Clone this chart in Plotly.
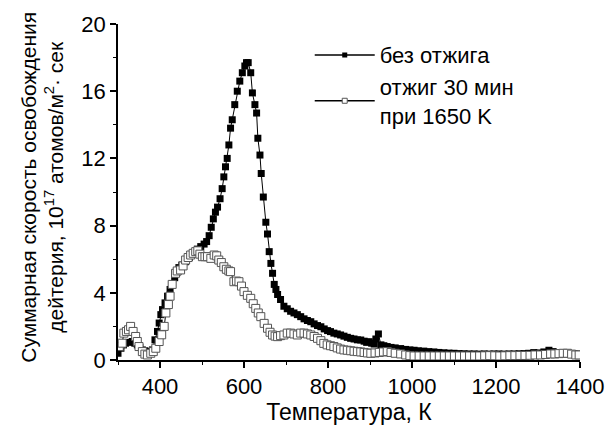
import plotly.graph_objects as go

# без отжига (filled squares)
t_raw = [300, 307, 313, 318, 326, 334, 340, 346, 352, 358, 364, 370, 376, 382, 388, 394, 398, 402, 406, 412,
         418, 424, 429, 435, 440, 445, 452, 461, 470, 481, 489, 497, 505, 511, 517, 522, 527, 532, 537, 543,
         548, 552, 556, 560, 564, 568, 572, 578, 584, 590, 596, 602, 606, 610, 616, 620, 626, 630, 633, 638,
         641, 646, 652, 656, 660, 664, 668, 672, 676, 680, 687, 695, 703, 711, 719, 727, 735, 743, 751, 759,
         767, 775, 783, 791, 799, 806, 814, 822, 830, 838, 846, 854, 862, 870, 878, 886, 892, 898, 904, 910,
         914, 920, 926, 933, 941, 950, 960, 973, 985, 995, 1005, 1015, 1028, 1040, 1052, 1064, 1076, 1088, 1100, 1112,
         1124, 1136, 1148, 1160, 1172, 1184, 1195, 1207, 1219, 1231, 1243, 1255, 1267, 1278, 1290, 1302, 1314, 1326, 1336, 1346,
         1356, 1366, 1376, 1386, 1396]
v_raw = [0.4, 0.7, 0.9, 1.0, 1.05, 1.1, 1.0, 0.9, 0.75, 0.6, 0.55, 0.5, 0.5, 0.6, 1.2, 1.7, 2.2, 2.7, 3.0, 3.4,
         3.8, 4.2, 4.5, 4.9, 5.2, 5.5, 5.65, 5.85, 6.1, 6.35, 6.6, 6.75, 6.9, 7.05, 7.4, 7.9, 8.4, 8.8, 9.1, 9.6,
         10.2, 10.9, 11.5, 12.0, 12.8, 13.8, 14.3, 15.2, 16.0, 16.6, 17.1, 17.5, 17.7, 17.7, 17.1, 15.9, 15.2, 14.7, 13.2, 12.2,
         11.1, 9.7, 8.2, 7.5, 6.45, 5.75, 5.16, 4.5, 4.2, 3.9, 3.6, 3.2, 3.05, 2.9, 2.8, 2.7, 2.58, 2.45, 2.35, 2.28,
         2.15, 2.05, 1.98, 1.85, 1.75, 1.69, 1.6, 1.55, 1.49, 1.42, 1.35, 1.29, 1.25, 1.2, 1.19, 1.12, 1.05, 1.09, 1.0, 0.95,
         1.25, 1.55, 0.9, 0.85, 0.8, 0.75, 0.72, 0.68, 0.63, 0.6, 0.58, 0.55, 0.53, 0.5, 0.48, 0.45, 0.43, 0.41, 0.4, 0.38,
         0.37, 0.36, 0.36, 0.35, 0.36, 0.35, 0.36, 0.36, 0.35, 0.36, 0.36, 0.37, 0.38, 0.4, 0.44, 0.42, 0.48, 0.58, 0.5, 0.4,
         0.38, 0.37, 0.36, 0.36, 0.35]

# отжиг 30 мин при 1650 K (open squares)
t_ann = [303, 310, 314, 320, 325, 330, 336, 342, 346, 350, 358, 364, 370, 378, 384, 390, 398, 404, 410, 414,
         420, 424, 429, 437, 441, 449, 455, 461, 467, 473, 479, 485, 490, 495, 501, 507, 513, 521, 529, 535,
         540, 546, 552, 558, 564, 568, 576, 582, 588, 594, 600, 608, 616, 622, 628, 634, 640, 648, 656, 662,
         668, 674, 680, 687, 695, 703, 711, 719, 727, 735, 743, 751, 759, 767, 775, 783, 790, 798, 806, 814,
         822, 830, 838, 846, 854, 862, 870, 878, 886, 894, 902, 912, 922, 932, 941, 950, 960, 973, 985, 995,
         1005, 1017, 1029, 1041, 1053, 1065, 1077, 1089, 1101, 1113, 1125, 1137, 1149, 1161, 1173, 1185, 1197, 1209, 1221, 1233,
         1245, 1257, 1269, 1281, 1293, 1306, 1318, 1330, 1340, 1350, 1360, 1370, 1380, 1390, 1398]
v_ann = [0.8, 1.0, 1.6, 1.7, 1.8, 2.0, 1.7, 1.4, 1.1, 0.8, 0.5, 0.35, 0.3, 0.4, 0.5, 0.7, 1.1, 1.5, 2.0, 2.8,
         3.3, 3.8, 4.5, 5.16, 5.3, 5.36, 5.6, 5.95, 6.1, 6.25, 6.35, 6.45, 6.5, 6.3, 6.15, 6.15, 6.15, 6.05, 6.25, 6.2,
         5.95, 5.8, 5.55, 5.4, 5.3, 5.26, 4.66, 4.7, 4.66, 4.4, 4.07, 3.85, 3.67, 3.35, 3.07, 2.8, 2.58, 2.18, 1.89, 1.65,
         1.49, 1.42, 1.39, 1.45, 1.49, 1.6, 1.6, 1.55, 1.49, 1.6, 1.6, 1.55, 1.49, 1.4, 1.29, 1.15, 0.99, 0.9, 0.85, 0.8,
         0.72, 0.65, 0.6, 0.58, 0.55, 0.52, 0.5, 0.48, 0.45, 0.42, 0.4, 0.42, 0.45, 0.48, 0.5, 0.45, 0.4, 0.36, 0.3, 0.26,
         0.24, 0.24, 0.24, 0.24, 0.24, 0.24, 0.24, 0.24, 0.24, 0.24, 0.24, 0.24, 0.24, 0.24, 0.25, 0.26, 0.25, 0.24, 0.25, 0.26,
         0.26, 0.27, 0.27, 0.28, 0.3, 0.3, 0.33, 0.36, 0.36, 0.38, 0.4, 0.4, 0.35, 0.3, 0.3]

x_ticks = [400, 600, 800, 1000, 1200, 1400]
y_ticks = [0, 4, 8, 12, 16, 20]

FONT = "Liberation Sans, Arial, sans-serif"

fig = go.Figure()
fig.add_trace(go.Scatter(
    x=t_raw, y=v_raw, mode="lines+markers", name="без отжига", showlegend=False,
    line=dict(color="black", width=1),
    marker=dict(symbol="square", size=7, color="black", line=dict(width=0)),
))
fig.add_trace(go.Scatter(
    x=t_ann, y=v_ann, mode="lines+markers", name="отжиг 30 мин при 1650 K", showlegend=False,
    line=dict(color="black", width=1),
    marker=dict(symbol="square", size=8, color="white", line=dict(color="#555555", width=1)),
))
# legend-only entries (smaller legend symbols, as in the reference)
fig.add_trace(go.Scatter(
    x=[None], y=[None], mode="lines+markers", name="без отжига",
    line=dict(color="black", width=1.5),
    marker=dict(symbol="square", size=5, color="black", line=dict(width=0)),
))
fig.add_trace(go.Scatter(
    x=[None], y=[None], mode="lines+markers", name="отжиг 30 мин<br>при 1650 K",
    line=dict(color="black", width=1.5),
    marker=dict(symbol="square", size=5, color="white", line=dict(color="#555555", width=1)),
))

axis_common = dict(
    showline=True, linecolor="black", linewidth=1.5, mirror=False,
    ticks="outside", ticklen=6, tickwidth=1.5, tickcolor="black",
    showgrid=False, zeroline=False, automargin=False,
    tickfont=dict(family=FONT, size=22, color="black"),
)

fig.update_xaxes(
    range=[300, 1400], tickvals=x_ticks, ticktext=[str(v) for v in x_ticks],
    minor=dict(ticks="outside", ticklen=3, tickwidth=1.2, tickcolor="black", dtick=100, tick0=300),
    title=dict(text="Температура, К", font=dict(family=FONT, size=23, color="black"), standoff=6),
    **axis_common,
)
fig.update_yaxes(
    range=[0, 20], tickvals=y_ticks, ticktext=[str(v) for v in y_ticks],
    minor=dict(ticks="outside", ticklen=3, tickwidth=1.2, tickcolor="black", dtick=2, tick0=0),
    **axis_common,
)

fig.add_annotation(
    text="Суммарная скорость освобождения<br>дейтерия, 10<sup>17</sup> атомов/м<sup>2</sup>· сек",
    xref="paper", yref="paper", x=-0.165, y=0.515, xanchor="center", yanchor="middle",
    textangle=-90, showarrow=False,
    font=dict(family=FONT, size=21, color="black"),
)

fig.update_layout(
    width=607, height=426,
    margin=dict(l=118, r=27, t=24, b=66, autoexpand=False),
    paper_bgcolor="white", plot_bgcolor="white",
    showlegend=True,
    legend=dict(
        x=0.415, y=0.97, xanchor="left", yanchor="top",
        bgcolor="rgba(0,0,0,0)", borderwidth=0,
        font=dict(family=FONT, size=22, color="black"),
        itemwidth=60, tracegroupgap=4,
    ),
)

fig.write_html("out.html")
